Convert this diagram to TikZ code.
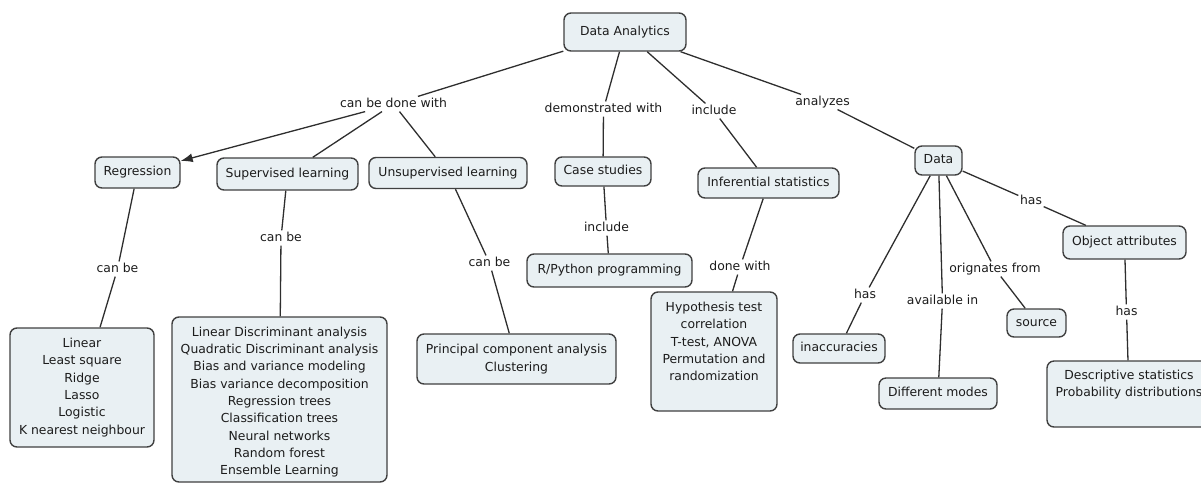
\documentclass[tikz,border=0pt]{standalone}
\usepackage{fontspec}
\setmainfont{DejaVu Sans}
\usetikzlibrary{arrows.meta}
\definecolor{boxfill}{HTML}{E9F0F3}
\definecolor{boxline}{HTML}{404040}
\definecolor{linkline}{HTML}{2E2E2E}
\definecolor{inktext}{HTML}{1C1C1C}

\begin{document}
\begin{tikzpicture}[x=1pt,y=-1pt,
  every node/.style={font=\fontsize{12.4pt}{17.3pt}\selectfont, text=inktext},
  concept/.style={draw=boxline, line width=1.4pt, fill=boxfill,
    rounded corners=7pt, inner sep=0pt, align=center},
  single/.style={text height=9.2pt, text depth=2.6pt},
  boxtext/.style={inner sep=0pt, align=center},
  linkphrase/.style={inner sep=1.5pt, text height=9.2pt, text depth=2.6pt},
  conn/.style={draw=linkline, line width=1.3pt},
  tip/.style={-{Latex[length=12pt,width=9pt]}},
]
\useasboundingbox (0,0) rectangle (1201,483);

% concepts
\node[concept, single, minimum width=122pt, minimum height=38pt] (da) at (625,32) {Data Analytics};
\node[concept, single, minimum width=85pt, minimum height=31pt] (reg) at (137.5,172.5) {Regression};
\node[concept, single, minimum width=141pt, minimum height=32pt] (sup) at (287.5,174) {Supervised learning};
\node[concept, single, minimum width=158pt, minimum height=31pt] (unsup) at (448,173) {Unsupervised learning};
\node[concept, single, minimum width=96pt, minimum height=29pt] (case) at (603,171.5) {Case studies};
\node[concept, single, minimum width=141pt, minimum height=30pt] (inf) at (768.5,183) {Inferential statistics};
\node[concept, single, minimum width=47pt, minimum height=29pt] (data) at (938.5,160.5) {Data};
\node[concept, single, minimum width=123pt, minimum height=33pt] (obj) at (1124.5,242.5) {Object attributes};

\node[concept, minimum width=144pt, minimum height=119pt] (regbox) at (82,387.5)
  {Linear\\Least square\\Ridge\\Lasso\\Logistic\\K nearest neighbour};
\node[concept, minimum width=215pt, minimum height=165pt] (supbox) at (279.5,399.5) {};
\node[boxtext] (suptext) at (279.5,402) {Linear Discriminant analysis\\Quadratic Discriminant analysis\\Bias and variance modeling\\Bias variance decomposition\\Regression trees\\Classification trees\\Neural networks\\Random forest\\Ensemble Learning};
\node[concept, minimum width=199pt, minimum height=50pt] (pca) at (516.5,359)
  {Principal component analysis\\Clustering};
\node[concept, single, minimum width=165pt, minimum height=33pt] (rpy) at (609.5,270.5) {R/Python programming};
\node[concept, minimum width=126pt, minimum height=119pt] (hyp) at (714,351.5) {};
\node[boxtext] (hyptext) at (714,341.5) {Hypothesis test\\correlation\\T-test, ANOVA\\Permutation and\\randomization};
\node[concept, single, minimum width=92pt, minimum height=29pt] (inacc) at (839,348.5) {inaccuracies};
\node[concept, single, minimum width=118pt, minimum height=31pt] (modes) at (938,393.5) {Different modes};
\node[concept, single, minimum width=59pt, minimum height=28pt] (source) at (1036.5,323) {source};
\node[concept, minimum width=164pt, minimum height=66pt] (desc) at (1129,394) {};
\node[boxtext] (desctext) at (1129,384.5) {Descriptive statistics\\Probability distributions};

% linking phrases
\node[linkphrase] (cbdw) at (393.5,104) {can be done with};
\node[linkphrase] (demo) at (603.5,109) {demonstrated with};
\node[linkphrase] (incl1) at (714,111) {include};
\node[linkphrase] (anlz) at (822.5,102) {analyzes};
\node[linkphrase] (canbe1) at (117.5,269) {can be};
\node[linkphrase] (canbe2) at (281,238) {can be};
\node[linkphrase] (canbe3) at (489.5,263) {can be};
\node[linkphrase] (incl2) at (606.5,228) {include};
\node[linkphrase] (donew) at (740,267) {done with};
\node[linkphrase] (has1) at (865,295) {has};
\node[linkphrase] (avail) at (942.5,301) {available in};
\node[linkphrase] (orig) at (995,269) {orignates from};
\node[linkphrase] (has2) at (1031,201) {has};
\node[linkphrase] (has3) at (1126.5,312) {has};

% connectors
\draw[conn] (da) -- (cbdw);
\draw[conn, tip] (cbdw) -- (reg);
\draw[conn] (cbdw) -- (sup);
\draw[conn] (cbdw) -- (unsup);
\draw[conn] (da) -- (demo);
\draw[conn] (demo) -- (case);
\draw[conn] (da) -- (incl1);
\draw[conn] (incl1) -- (inf);
\draw[conn] (da) -- (anlz);
\draw[conn] (anlz) -- (data);

\draw[conn] (reg) -- (canbe1);
\draw[conn] (canbe1) -- (regbox);
\draw[conn] (sup) -- (canbe2);
\draw[conn] (canbe2) -- (supbox);
\draw[conn] (unsup) -- (canbe3);
\draw[conn] (canbe3) -- (pca);
\draw[conn] (case) -- (incl2);
\draw[conn] (incl2) -- (rpy);
\draw[conn] (inf) -- (donew);
\draw[conn] (donew) -- (hyp);

\draw[conn] (data) -- (has1);
\draw[conn] (has1) -- (inacc);
\draw[conn] (data) -- (avail);
\draw[conn] (avail) -- (modes);
\draw[conn] (data) -- (orig);
\draw[conn] (orig) -- (source);
\draw[conn] (data) -- (has2);
\draw[conn] (has2) -- (obj);
\draw[conn] (obj) -- (has3);
\draw[conn] (has3) -- (desc);
\end{tikzpicture}
\end{document}
